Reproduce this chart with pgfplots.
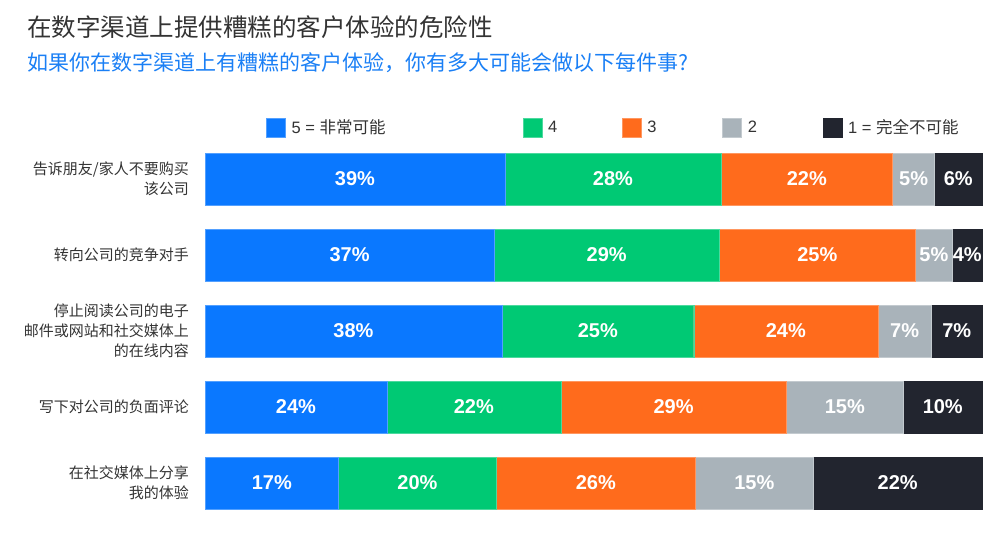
\documentclass[border=0pt]{standalone}
\usepackage{pgfplots}
\pgfplotsset{compat=1.18}
\usepackage{fontspec}
\setmainfont{Liberation Sans}
\newfontfamily\cjk{Noto Sans CJK SC}
\definecolor{cBlue}{HTML}{0A78FF}
\definecolor{cGreen}{HTML}{00C974}
\definecolor{cOrange}{HTML}{FF6B1C}
\definecolor{cGray}{HTML}{A9B3BA}
\definecolor{cDark}{HTML}{22252F}
\definecolor{cText}{HTML}{333333}
\definecolor{cSub}{HTML}{1A7FF5}
\begin{document}
\begin{tikzpicture}[x=1pt,y=1pt]
\path[use as bounding box] (0,0) rectangle (1000,540);
\node[anchor=west, inner sep=0pt, text=cText, font=\cjk\fontsize{24.5}{28}\selectfont] at (27,513) {在数字渠道上提供糟糕的客户体验的危险性};
\node[anchor=west, inner sep=0pt, text=cSub, font=\cjk\fontsize{21}{25}\selectfont] at (27,477) {如果你在数字渠道上有糟糕的客户体验，你有多大可能会做以下每件事?};
\begin{axis}[
  at={(205pt,19pt)}, anchor=south west,
  scale only axis, width=777pt, height=380pt,
  xbar stacked, bar width=52pt,
  xmin=0, xmax=100, ymin=0.5, ymax=5.5, y dir=reverse,
  axis line style={draw=none}, major tick length=0pt,
  xtick=\empty, ytick={1,2,3,4,5},
  yticklabels={告诉朋友/家人不要购买\\该公司, 转向公司的竞争对手, 停止阅读公司的电子\\邮件或网站和社交媒体上\\的在线内容, 写下对公司的负面评论, 在社交媒体上分享\\我的体验},
  yticklabel style={align=right, inner sep=0pt, xshift=-16pt, text=cText, font=\cjk\fontsize{15}{20}\selectfont},
  point meta=explicit symbolic,
  nodes near coords={\pgfplotspointmeta},
  every node near coord/.append style={text=white, font=\bfseries\fontsize{20}{23}\selectfont},
  clip=false,
  legend columns=5,
  legend cell align=left,
  legend style={at={(axis description cs:0.0785,1.0355)}, anchor=west, draw=none, fill=none, inner sep=0pt,
    font=\fontsize{16.5}{19}\selectfont, text=cText,
    nodes={inner sep=0pt},
    /tikz/every odd column/.append style={column sep=6pt}},
  legend image code/.code={\fill[#1] (0pt,-9.5pt) rectangle (19pt,9.5pt);},
]
\addplot[fill=cBlue, draw=cBlue!70!white] coordinates {(38.6,1)[39\%] (37.2,2)[37\%] (38.2,3)[38\%] (23.4,4)[24\%] (17.2,5)[17\%]};
\addlegendentry{\makebox[231pt][l]{5 = {\cjk 非常可能}}}
\addplot[fill=cGreen, draw=cGreen!70!white] coordinates {(27.8,1)[28\%] (29.0,2)[29\%] (24.7,3)[25\%] (22.4,4)[22\%] (20.3,5)[20\%]};
\addlegendentry{\makebox[74pt][l]{4}}
\addplot[fill=cOrange, draw=cOrange!70!white] coordinates {(22.1,1)[22\%] (25.2,2)[25\%] (23.7,3)[24\%] (29.0,4)[29\%] (25.6,5)[26\%]};
\addlegendentry{\makebox[75pt][l]{3}}
\addplot[fill=cGray, draw=cGray!70!white] coordinates {(5.4,1)[5\%] (4.8,2)[5\%] (6.9,3)[7\%] (15.1,4)[15\%] (15.2,5)[15\%]};
\addlegendentry{\makebox[75pt][l]{2}}
\addplot[fill=cDark, draw=cDark] coordinates {(6.1,1)[6\%] (3.8,2)[4\%] (6.5,3)[7\%] (10.1,4)[10\%] (21.7,5)[22\%]};
\addlegendentry{1 = {\cjk 完全不可能}}
\end{axis}
\end{tikzpicture}
\end{document}
